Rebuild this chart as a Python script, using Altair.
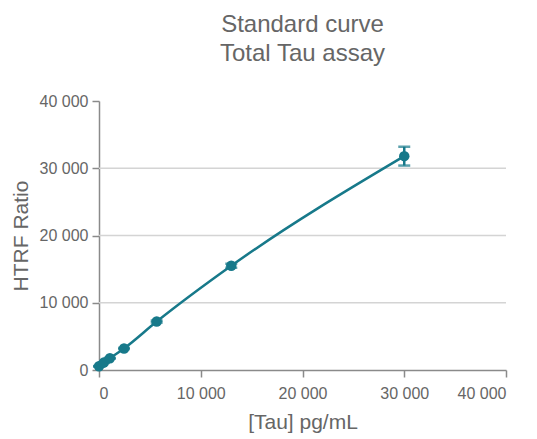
import altair as alt
import pandas as pd

concentration = [0, 470, 1070, 2460, 5670, 13000, 30000]
htrf_ratio = [550, 1100, 1750, 3200, 7200, 15500, 31800]
error = [40, 50, 60, 90, 150, 300, 1400]
grid_values = [10000, 20000, 30000]
tick_values = [0, 10000, 20000, 30000, 40000]

df = pd.DataFrame({"conc": concentration, "ratio": htrf_ratio, "err": error})
df["lo"] = df["ratio"] - df["err"]
df["hi"] = df["ratio"] + df["err"]
grid_df = pd.DataFrame({"g": grid_values})

COLOR = "#17798a"
TEXT = "#666666"
FONT = "Liberation Sans"
label_expr = "replace(format(datum.value, ','), ',', ' ')"

xscale = alt.Scale(domain=[0, 40000], nice=False)
yscale = alt.Scale(domain=[0, 40000], nice=False)

xaxis = alt.Axis(values=tick_values, labelExpr=label_expr, grid=False, title="[Tau] pg/mL",
                 tickSize=7, labelPadding=8, titlePadding=10)
yaxis = alt.Axis(values=tick_values, labelExpr=label_expr, grid=False, title="HTRF Ratio",
                 tickSize=7, labelPadding=4, titlePadding=8)

grid = alt.Chart(grid_df).mark_rule(color="#d4d4d4", strokeWidth=1.5).encode(
    y=alt.Y("g:Q", scale=yscale, axis=yaxis)
)

line = alt.Chart(df).mark_line(color=COLOR, strokeWidth=2.5, interpolate="monotone").encode(
    x=alt.X("conc:Q", scale=xscale, axis=xaxis),
    y=alt.Y("ratio:Q", scale=yscale, axis=yaxis),
)

points = alt.Chart(df).mark_circle(color=COLOR, size=110, opacity=1).encode(
    x=alt.X("conc:Q", scale=xscale),
    y=alt.Y("ratio:Q", scale=yscale),
)

err_rule = alt.Chart(df).mark_rule(color=COLOR, strokeWidth=2.5).encode(
    x=alt.X("conc:Q", scale=xscale),
    y=alt.Y("lo:Q", scale=yscale),
    y2="hi:Q",
)
cap_hi = alt.Chart(df).mark_tick(color=COLOR, thickness=2.5, size=12, orient="horizontal").encode(
    x=alt.X("conc:Q", scale=xscale),
    y=alt.Y("hi:Q", scale=yscale),
)
cap_lo = alt.Chart(df).mark_tick(color=COLOR, thickness=2.5, size=12, orient="horizontal").encode(
    x=alt.X("conc:Q", scale=xscale),
    y=alt.Y("lo:Q", scale=yscale),
)

chart = alt.layer(grid, line, err_rule, cap_hi, cap_lo, points).properties(
    width=407,
    height=269,
    padding={"left": 2, "top": 5, "right": 5, "bottom": 5},
    title=alt.TitleParams(
        text=["Standard curve", "Total Tau assay"],
        fontSize=24, font=FONT, color=TEXT, fontWeight="normal",
        lineHeight=29, offset=27, anchor="middle",
    ),
).configure_view(stroke=None).configure_axis(
    labelFont=FONT, titleFont=FONT, labelFontSize=16, titleFontSize=21,
    labelColor=TEXT, titleColor=TEXT, titleFontWeight="normal",
    domainColor="#8a8a8a", tickColor="#8a8a8a", domainWidth=1.5, tickWidth=1.5,
)

chart.save("out.html", embed_options={"renderer": "svg", "actions": False})
